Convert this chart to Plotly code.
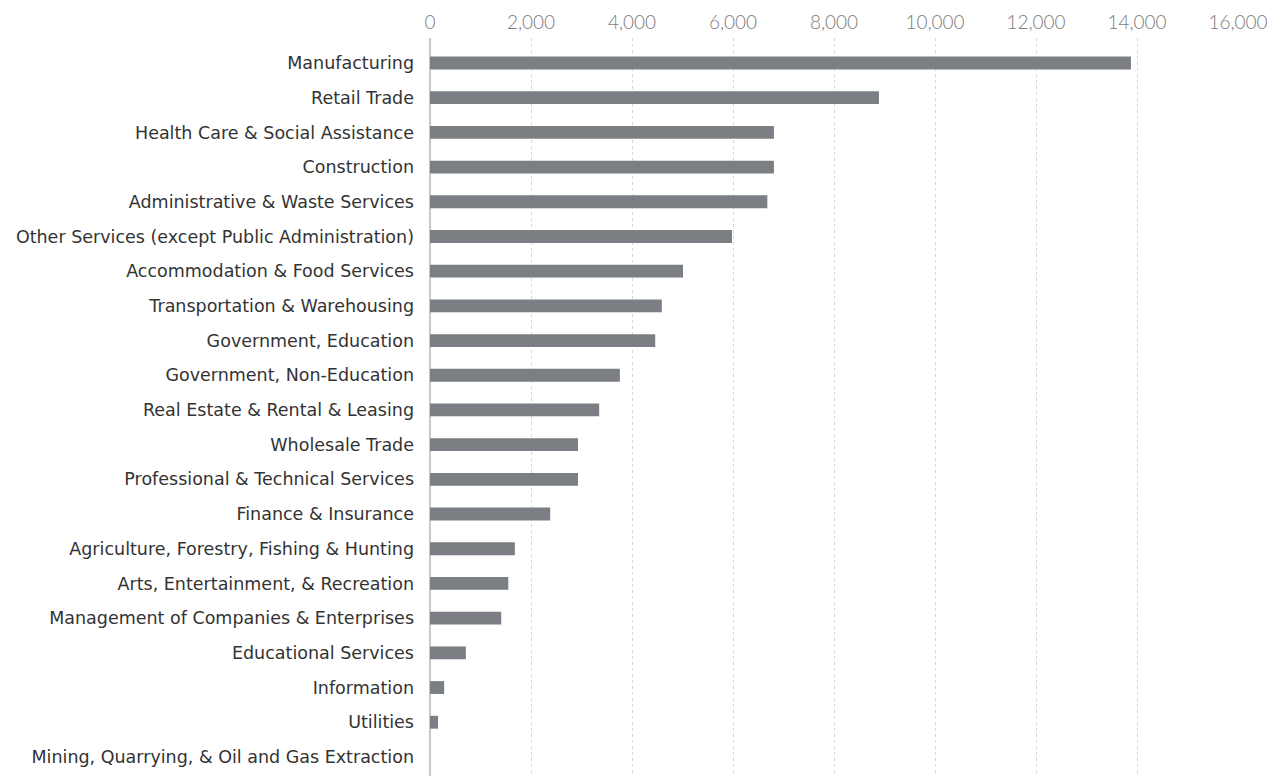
import plotly.graph_objects as go

# 業種（上から順）
industries = [
    'Manufacturing',
    'Retail Trade',
    'Health Care & Social Assistance',
    'Construction',
    'Administrative & Waste Services',
    'Other Services (except Public Administration)',
    'Accommodation & Food Services',
    'Transportation & Warehousing',
    'Government, Education',
    'Government, Non-Education',
    'Real Estate & Rental & Leasing',
    'Wholesale Trade',
    'Professional & Technical Services',
    'Finance & Insurance',
    'Agriculture, Forestry, Fishing & Hunting',
    'Arts, Entertainment, & Recreation',
    'Management of Companies & Enterprises',
    'Educational Services',
    'Information',
    'Utilities',
    'Mining, Quarrying, & Oil and Gas Extraction',
]

values = [13880, 8890, 6810, 6810, 6680, 5980, 5010, 4590, 4460, 3760,
          3350, 2930, 2930, 2380, 1680, 1550, 1410, 710, 280, 160, 0]

x_ticks = [0, 2000, 4000, 6000, 8000, 10000, 12000, 14000, 16000]
x_tick_text = ['0', '2,000', '4,000', '6,000', '8,000', '10,000', '12,000', '14,000', '16,000']

fig = go.Figure()

fig.add_trace(go.Bar(
    x=values,
    y=industries,
    orientation='h',
    marker=dict(color='#7b7e82', line=dict(width=0)),
    hoverinfo='x+y'
))

# ページ本体の余白(8px)を考慮したサイズ
fig.update_layout(
    width=1261,
    height=768,
    margin=dict(l=422, r=31, t=30, b=0),
    paper_bgcolor='white',
    plot_bgcolor='white',
    bargap=0.63,
    showlegend=False,
    font=dict(family='DejaVu Sans, sans-serif', size=17.5, color='#333333'),
)

fig.update_xaxes(
    side='top',
    range=[0, 16000],
    tickvals=x_ticks,
    ticktext=x_tick_text,
    tickfont=dict(family='Lato, sans-serif', size=19, color='#7c7c7c', weight=300),
    showgrid=True,
    gridcolor='#d6d6d6',
    griddash='dot',
    gridwidth=1,
    zeroline=True,
    zerolinecolor='#c8c8cc',
    zerolinewidth=1.5,
    showline=False,
    ticks='',
    ticklabelstandoff=4,
)

fig.update_yaxes(
    categoryorder='array',
    categoryarray=industries,
    range=[20.55, -0.72],
    tickfont=dict(family='DejaVu Sans, sans-serif', size=17.5, color='#333333'),
    showgrid=False,
    zeroline=False,
    showline=False,
    ticks='',
    ticklabelstandoff=15,
)

fig.write_html('out.html')
